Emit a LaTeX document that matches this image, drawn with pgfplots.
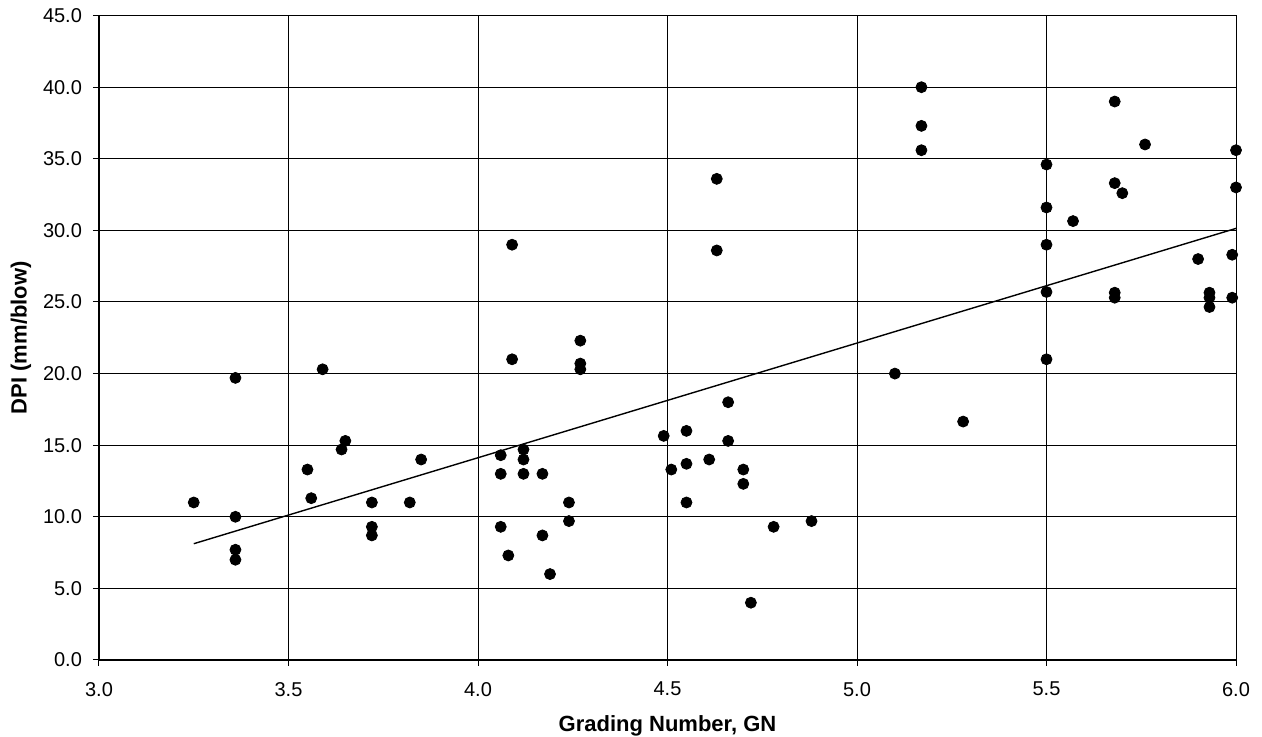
\documentclass[border=0pt]{standalone}
\usepackage{fontspec}
\setmainfont{Liberation Sans}
\usepackage{pgfplots}
\pgfplotsset{compat=1.18}
\begin{document}
\begin{tikzpicture}[x=1pt,y=1pt]
\path[use as bounding box] (-49.5,-38.5) rectangle (581.5,330);
\begin{axis}[
  at={(0,0)}, anchor=south west,
  scale only axis, width=568.5pt, height=322.2pt,
  xmin=3, xmax=6, ymin=0, ymax=45,
  xtick={3,3.5,4,4.5,5,5.5,6}, ytick={0,5,10,15,20,25,30,35,40,45},
  grid=major, grid style={black, line width=0.5pt},
  axis line style={line width=0.5pt, black},
  tick align=outside, xtick pos=bottom, ytick pos=left, major tick length=3pt,
  tick style={black, line width=0.5pt},
  /pgf/number format/fixed, /pgf/number format/fixed zerofill,
  /pgf/number format/precision=1, /pgf/number format/assume math mode=true,
  ticklabel style={font=\fontsize{10}{12}\selectfont},
  xticklabel style={yshift=-4.5pt},
  yticklabel style={xshift=-2pt},
  every axis x label/.style={at={([yshift=-36pt]axis description cs:0.5,0)}, anchor=base},
  every axis y label/.style={at={([xshift=-39pt]axis description cs:0,0.5)}, anchor=center, rotate=90},
  xlabel={\fontsize{11}{13}\selectfont\bfseries Grading Number, GN},
  ylabel={\fontsize{11}{13}\selectfont\bfseries DPI (mm/blow)},
  clip=false,
]
\addplot[only marks, mark=*, mark size=2.75pt, black] coordinates {
(3.25,11.0) (3.36,19.7) (3.36,10.0) (3.36,7.7) (3.36,7.0)
(3.59,20.3) (3.55,13.3) (3.56,11.3) (3.64,14.7) (3.65,15.3)
(3.72,11.0) (3.72,9.3) (3.72,8.7) (3.82,11.0) (3.85,14.0)
(4.06,14.3) (4.06,13.0) (4.06,9.3) (4.08,7.3)
(4.12,14.7) (4.12,14.0) (4.12,13.0) (4.17,13.0) (4.17,8.7) (4.19,6.0)
(4.24,11.0) (4.24,9.7) (4.09,29.0) (4.09,21.0)
(4.27,22.3) (4.27,20.7) (4.27,20.3)
(4.63,33.6) (4.63,28.6) (4.49,15.65) (4.55,16.0) (4.51,13.3) (4.55,13.7) (4.55,11.0)
(4.61,14.0) (4.66,18.0) (4.66,15.3) (4.70,13.3) (4.70,12.3) (4.72,4.0)
(4.78,9.3) (4.88,9.7)
(5.10,20.0) (5.28,16.65) (5.17,40.0) (5.17,37.3) (5.17,35.6)
(5.50,34.6) (5.50,31.6) (5.50,29.0) (5.50,25.7) (5.50,21.0)
(5.57,30.65) (5.68,39.0) (5.68,33.3) (5.70,32.6) (5.68,25.65) (5.68,25.3)
(5.76,36.0) (5.90,28.0) (5.93,25.65) (5.93,25.3) (5.93,24.65)
(6.00,35.6) (6.00,33.0) (5.99,28.3) (5.99,25.3)
};
\addplot[black, line width=0.7pt] coordinates {(3.25,8.12) (6.0,30.14)};
\draw[black, line width=1pt] (rel axis cs:0,1) -- (rel axis cs:0,0) -- (rel axis cs:1,0);
\end{axis}
\end{tikzpicture}
\end{document}
